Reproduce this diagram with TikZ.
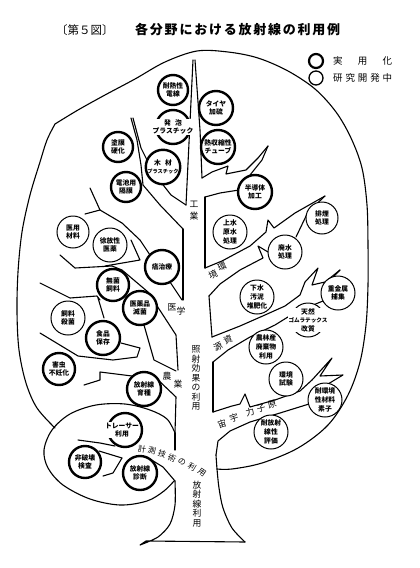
\documentclass[tikz,border=0pt]{standalone}
\usepackage{fontspec}
\newfontfamily\jp{Noto Sans CJK JP}
\begin{document}
\begin{tikzpicture}[x=1pt,y=-1pt,
  tree/.style={line width=1.1pt, line join=round, line cap=round},
  ring/.style={circle, draw, fill=white, minimum size=34pt, inner sep=0pt, align=center, font=\jp\bfseries\fontsize{6.8}{8.6}\selectfont},
  done/.style={ring, line width=2.4pt},
  dev/.style={ring, line width=1pt},
  ovl/.style={fill=white, inner sep=0.4pt, align=center, font=\jp\bfseries\fontsize{6.8}{8.6}\selectfont},
  lab/.style={font=\jp\fontsize{8.8}{9.5}\selectfont, inner sep=0pt},
  mlab/.style={font=\jp\fontsize{8}{9}\selectfont, inner sep=0pt},
  vlab/.style={font=\jp\fontsize{8.8}{9.5}\selectfont, align=center, inner sep=0pt},
]
\useasboundingbox[fill=white] (0,0) rectangle (420,568);

% ---------- title and legend ----------
\node[anchor=west, font=\jp\fontsize{11.5}{12}\selectfont, inner sep=0pt] (fig) at (56,30) {〔第５図〕};
\node[anchor=west, font=\jp\bfseries\fontsize{13}{14}\selectfont, inner sep=0pt] (title) at (135,30)
  {\makebox[205pt][s]{各\hfill 分\hfill 野\hfill に\hfill お\hfill け\hfill る\hfill 放\hfill 射\hfill 線\hfill の\hfill 利\hfill 用\hfill 例}};
\node[done, minimum size=14pt, line width=2.2pt] (lg1) at (316,61) {};
\node[dev, minimum size=14pt, line width=1.3pt] (lg2) at (316,78) {};
\node[anchor=west, font=\jp\fontsize{9.5}{10}\selectfont, inner sep=0pt] (lt1) at (333,61)
  {\makebox[59pt][s]{実\hfill 用\hfill 化}};
\node[anchor=west, font=\jp\fontsize{9.5}{10}\selectfont, inner sep=0pt] (lt2) at (333,78)
  {\makebox[59pt][s]{研\hfill 究\hfill 開\hfill 発\hfill 中}};

% ---------- crown outline ----------
\draw[tree] plot[smooth, tension=0.55] coordinates {(55,428) (37,408) (26,383) (19,350) (17,312) (18,272) (22,232) (30,195) (40,162) (47,140) (55,124)};
\draw[tree] plot[smooth, tension=0.55] coordinates {(55,124) (78,110) (105,95) (135,79) (165,62) (197,51) (228,52) (258,58) (288,71) (315,89) (336,112) (351,138) (362,168) (367,205) (368,245) (368,285) (366,325) (360,362) (348,395) (328,425) (298,448) (262,463) (232,469) (217,469)};

% ---------- lower lobe ----------
\draw[tree] plot[smooth, tension=0.55] coordinates {(175,433) (167,419) (150,410) (125,404) (96,405) (70,414) (52,430) (44,450) (48,468) (63,485) (90,499) (120,505) (147,501) (164,491) (174,481)};

% ---------- trunk ----------
\draw[tree] plot[smooth, tension=0.5] coordinates {(175,481) (175,505) (170,524) (158,537) (140,545)} -- (146,541) -- (245,542);
\draw[tree] plot[smooth, tension=0.5] coordinates {(245,542) (232,528) (223,508) (219,488) (217,469) (216,455)};

% ---------- left branches ----------
\draw[tree] (193,60) -- (186,205);
\draw[tree] (133,118) -- (141,148) -- (153,172) -- (171,195) -- (186,205);
\draw[tree] (131,118) -- (137,140) -- (141,165) -- (143,185) -- (160,205) -- (183,229);
\draw[tree] (183,229) -- (183,300);
% medicine
\draw[tree] (90,188) -- (100,210) -- (122,223) -- (140,240) -- (150,255);
\draw[tree] (85,214) -- (100,210);
\draw[tree] (170,282) -- (182,300);
\draw[tree] (131,240) -- (140,260) -- (105,266);
\draw[tree] (60,255) -- (75,268) -- (112,266) -- (122,270) -- (148,292) -- (176,335) -- (178,370);
% agriculture
\draw[tree] (40,283) -- (70,298) -- (97,296) -- (100,300);
\draw[tree] (98,298) -- (104,318);
\draw[tree] (144,325) -- (154,360) -- (176,371);
\draw[tree] (40,333) -- (78,356) -- (113,360) -- (137,357) -- (140,348) -- (121,343);
\draw[tree] (84,385) -- (100,380) -- (100,372) -- (132,376);
\draw[tree] (156,378) -- (176,397) -- (175,433);
% measurement lobe
\draw[tree] (78,440) -- (100,443) -- (115,446);
\draw[tree] (175,433) -- (175,450);
\draw[tree] (150,459) -- (163,467) -- (175,481);
\draw[tree] (103,476) -- (113,473) -- (122,458);
\draw[tree] (99,451) -- (122,458);

% ---------- right branches ----------
\draw[tree] (195,60) -- (200,130) -- (202,178);
\draw[tree] (202,178) -- (212,172) -- (228,166) -- (226,174) -- (246,170) -- (258,158) -- (268,146);
\draw[tree] (268,146) -- (262,160) -- (250,175);
\draw[tree] (239,190) -- (220,193) -- (205,197);
\draw[tree] (205,197) -- (205,268);
% environment
\draw[tree] (205,268) -- (222,261) -- (250,246) -- (266,232) -- (268,220) -- (274,228) -- (295,213) -- (325,196);
\draw[tree] (325,196) -- (308,212) -- (296,237);
\draw[tree] (268,252) -- (258,246) -- (263,258) -- (240,270) -- (220,284) -- (209,296);
\draw[tree] (209,296) -- (212,337);
% resources
\draw[tree] (212,337) -- (240,326) -- (265,315) -- (285,306) -- (300,295) -- (305,282) -- (318,268) -- (312,285) -- (325,282) -- (340,270);
\draw[tree] (340,270) -- (327,283);
\draw[tree] (323,301) -- (296,312) -- (275,325) -- (250,337) -- (228,350) -- (213,362);
\draw[tree] (213,362) -- (213,412);
% nuclear / space
\draw[tree] (213,412) -- (232,406) -- (240,404) -- (245,394) -- (250,407) -- (275,400) -- (300,391) -- (312,380) -- (332,358) -- (320,376) -- (343,375) -- (328,384);
\draw[tree] (309,404) -- (280,413) -- (250,422) -- (230,431) -- (218,441) -- (216,455);

% ---------- circles ----------
\node[done, minimum size=30pt] (c1) at (173,90) {耐熱性\\電線};
\node[done] (c2) at (216,108) {タイヤ\\加硫};
\node[done] (c3) at (173,127) {};
\node[ovl] (t3) at (173,127) {発\hspace{0.6em}泡\\プラスチック};
\node[done] (c4) at (218,147) {熱収縮性\\チューブ};
\node[done, minimum size=30pt] (c5) at (118,147) {塗膜\\硬化};
\node[done] (c6) at (163,167) {木\hspace{0.6em}材\\{\fontsize{5.2}{7}\selectfont プラスチック}};
\node[done, minimum size=30pt] (c7) at (126,187) {電池用\\隔膜};
\node[done] (c8) at (255,192) {半導体\\加工};
\node[dev, minimum size=32pt] (c9) at (73,232) {医用\\材料};
\node[dev] (c10) at (110,245) {徐放性\\医薬};
\node[done] (c11) at (162,267) {癌治療};
\node[dev] (c12) at (230,232) {上水\\原水\\処理};
\node[dev, minimum size=32pt] (c13) at (322,218) {排煙\\処理};
\node[dev] (c14) at (285,252) {廃水\\処理};
\node[dev] (c15) at (257,297) {下水\\汚泥\\堆肥化};
\node[dev] (c16) at (338,293) {重金属\\捕集};
\node[dev] (c17) at (308,320) {};
\node[ovl] (t17) at (308,320) {天然\\{\fontsize{5.6}{7.5}\selectfont ゴムラテックス}\\改質};
\node[dev] (c18) at (266,347) {農林産\\廃棄物\\利用};
\node[dev] (c19) at (286,379) {環境\\試験};
\node[dev] (c20) at (325,400) {耐環境\\性材料\\素子};
\node[dev] (c21) at (271,432) {耐放射\\線性\\評価};
\node[done, minimum size=32pt] (c22) at (113,285) {無菌\\飼料};
\node[done] (c23) at (140,308) {医薬品\\滅菌};
\node[dev] (c24) at (68,318) {飼料\\殺菌};
\node[done] (c25) at (103,338) {食品\\保存};
\node[done, minimum size=32pt] (c26) at (59,369) {害虫\\不妊化};
\node[done] (c27) at (144,389) {放射線\\育種};
\node[done] (c28) at (125,430) {};
\node[ovl] (t28) at (122,430) {トレーサー\\利用};
\node[done, minimum size=32pt] (c29) at (85,462) {非破壊\\検査};
\node[done] (c30) at (140,473) {放射線\\診断};

% ---------- field labels ----------
\node[vlab, font=\jp\fontsize{8.8}{12}\selectfont] (kogyo) at (194,211) {工\\業};
\node[lab] (i1) at (172,307) {医};
\node[lab] (i2) at (181,311) {学};
\node[lab] (n1) at (167,376) {農};
\node[lab] (n2) at (178,384) {業};
\node[lab, rotate=25] (k1) at (222,267) {環};
\node[lab, rotate=25] (k2) at (213,275) {境};
\node[lab, rotate=25] (s1) at (228,340) {資};
\node[lab, rotate=25] (s2) at (218,347) {源};
\node[lab, rotate=18] (u1) at (222,424) {宙};
\node[lab, rotate=18] (u2) at (234,418) {宇};
\node[lab, rotate=15] (u3) at (250,412) {力};
\node[lab, rotate=15] (u4) at (261,408) {子};
\node[lab, rotate=15] (u5) at (272,404) {原};
\node[vlab] (shosha) at (196,378) {照\\射\\効\\果\\の\\利\\用};
\node[vlab] (riyo) at (197,504) {放\\射\\線\\利\\用};
\node[mlab, rotate=-10] (m1) at (142,449) {計};
\node[mlab, rotate=-14] (m2) at (152,451) {測};
\node[mlab, rotate=-18] (m3) at (162,454) {技};
\node[mlab, rotate=-22] (m4) at (172,458) {術};
\node[mlab, rotate=-27] (m5) at (182,462) {の};
\node[mlab, rotate=-31] (m6) at (192,467) {利};
\node[mlab, rotate=-35] (m7) at (202,473) {用};
\end{tikzpicture}
\end{document}
